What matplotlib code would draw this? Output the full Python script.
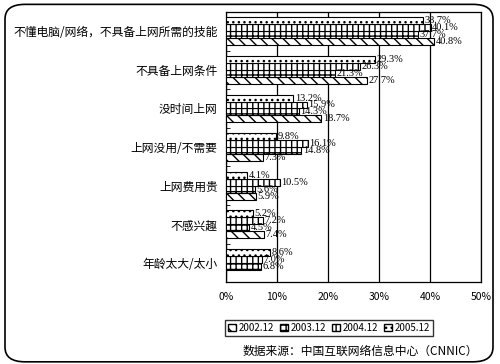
import matplotlib.pyplot as plt
import numpy as np
from matplotlib.patches import FancyBboxPatch, Patch

plt.rcParams['font.family'] = ['Noto Sans CJK SC', 'DejaVu Sans']
plt.rcParams['hatch.linewidth'] = 1.0

categories = ['不懂电脑/网络，不具备上网所需的技能', '不具备上网条件', '没时间上网',
              '上网没用/不需要', '上网费用贵', '不感兴趣', '年龄太大/太小']
years = ['2002.12', '2003.12', '2004.12', '2005.12']
v2002 = [40.8, 27.7, 18.7, 7.3, 5.9, 7.4, np.nan]
v2003 = [37.7, 21.3, 14.3, 14.8, 5.6, 4.5, 6.8]
v2004 = [40.1, 26.3, 15.9, 16.1, 10.5, 7.2, 7.0]
v2005 = [38.7, 29.3, 13.2, 9.8, 4.1, 5.2, 8.6]
xticks = [0, 10, 20, 30, 40, 50]

series = [v2002, v2003, v2004, v2005]
hatches = ['\\\\\\', '+++', '|||', '...']
offsets = [0.27, 0.09, -0.09, -0.27]
h = 0.18

fig = plt.figure(figsize=(5, 3.64), dpi=100)
fig.patches.append(FancyBboxPatch((0.01, 0.006), 0.976, 0.982, boxstyle='round,pad=0,rounding_size=0.04',
                                  transform=fig.transFigure, fc='white', ec='black', lw=1.2, zorder=-1))
ax = fig.add_axes([0.452, 0.225, 0.51, 0.742])
y = np.arange(len(categories))
for vals, hat, off in zip(series, hatches, offsets):
    vv = np.nan_to_num(np.array(vals))
    ax.barh(y + off, vv, height=h, color='white', edgecolor='black', hatch=hat, lw=0.8, zorder=3)
    for yi, v in zip(y, vals):
        if not np.isnan(v):
            ax.text(v + 0.3, yi + off, f'{v:.1f}%', va='center', ha='left', fontsize=7.5,
                    family='Liberation Serif', zorder=4)

ax.set_xlim(0, 50)
ax.set_ylim(len(categories) - 0.5, -0.5)
ax.set_xticks(xticks)
ax.set_xticklabels([f'{t}%' for t in xticks], fontsize=7.5)
ax.tick_params(axis='x', length=0, pad=7)
ax.set_yticks(y)
ax.set_yticklabels(categories, fontsize=8.5)
ax.tick_params(axis='y', length=0, pad=6)
ax.set_yticks(np.arange(len(categories) + 1) - 0.5, minor=True)
ax.tick_params(axis='y', which='minor', length=3, direction='in')
ax.grid(axis='x', color='black', lw=0.9, zorder=1)
for s in ax.spines.values():
    s.set_linewidth(0.9)

handles = [Patch(fc='white', ec='black', hatch=hat, label=yr) for hat, yr in zip(hatches, years)]
fig.legend(handles=handles, loc='center', bbox_to_anchor=(0.658, 0.1), ncol=4, fontsize=7,
           frameon=True, fancybox=False, edgecolor='black', handlelength=0.8, handleheight=0.8,
           handletextpad=0.3, columnspacing=0.6, borderpad=0.3)
fig.text(0.72, 0.035, '数据来源：中国互联网络信息中心（CNNIC）', ha='center', va='center', fontsize=8.5)

fig.savefig('out.png', dpi=100)
